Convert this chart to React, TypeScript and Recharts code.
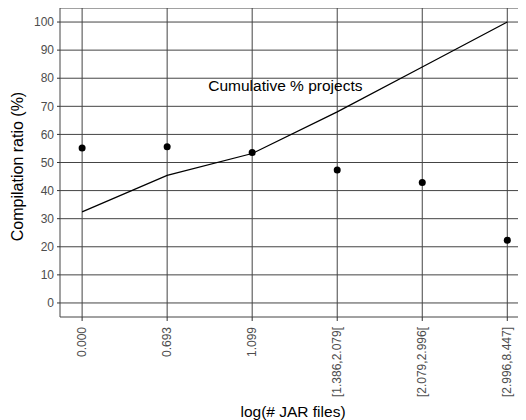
import { ComposedChart, Line, XAxis, YAxis, CartesianGrid, ReferenceDot, Label } from 'recharts'

const jarBins = ['0.000', '0.693', '1.099', '[1.386,2.079[', '[2.079,2.996[', '[2.996,8.447]']
const compilationRatio = [55.2, 55.6, 53.6, 47.3, 42.9, 22.3]
const cumulativeProjects = [32.4, 45.4, 53.2, 68.0, 84.0, 100]
const yTicks = [0, 10, 20, 30, 40, 50, 60, 70, 80, 90, 100]

const data = jarBins.map((bin, i) => ({
    idx: i,
    bin,
    ratio: compilationRatio[i],
    cumulative: cumulativeProjects[i]
}))

const FONT = '"Liberation Sans", Arial, sans-serif'

const XTick = (props: any) => {
    const { x, y, payload } = props
    return (
        <text
            x={x}
            y={y}
            dy="0.35em"
            transform={`rotate(-90 ${x} ${y})`}
            textAnchor="end"
            fontSize={12}
            fill="#4d4d4d"
            fontFamily={FONT}
        >
            {jarBins[payload.value]}
        </text>
    )
}

const YTitle = (props: any) => {
    const { viewBox } = props
    const cx = viewBox.x + 9
    const cy = viewBox.y + viewBox.height / 2 + 4
    return (
        <text x={cx} y={cy} dy="0.35em" transform={`rotate(-90 ${cx} ${cy})`} textAnchor="middle" fontSize={16} fill="#000" fontFamily={FONT}>
            Compilation ratio (%)
        </text>
    )
}

const Annotation = (props: any) => {
    const { cx, cy } = props
    return (
        <text x={cx} y={cy} dy="0.35em" textAnchor="middle" fontSize={15.5} fill="#000" fontFamily={FONT}>
            Cumulative % projects
        </text>
    )
}

export default function App() {
    return (
        <ComposedChart
            width={518}
            height={412}
            data={data}
            margin={{ top: 0, right: 0, bottom: 0, left: 0 }}
            style={{ fontFamily: FONT }}
        >
            <CartesianGrid stroke="#444" strokeWidth={1} />
            <XAxis
                dataKey="idx"
                type="number"
                domain={[-0.26, 5.22]}
                ticks={[0, 1, 2, 3, 4, 5]}
                allowDataOverflow
                height={103}
                axisLine={false}
                tickSize={4}
                tickLine={{ stroke: '#333' }}
                tickMargin={6}
                tick={<XTick />}
                interval={0}
            >
                <Label value="log(# JAR files)" position="insideBottom" offset={3} fontSize={15.5} fill="#000" fontFamily={FONT} />
            </XAxis>
            <YAxis
                type="number"
                domain={[-5, 105]}
                ticks={yTicks}
                allowDataOverflow
                width={52}
                axisLine={false}
                tickSize={3}
                tickLine={{ stroke: '#333' }}
                tickMargin={3}
                tick={{ fontSize: 12, fill: '#4d4d4d', fontFamily: FONT }}
                interval={0}
            >
                <Label content={<YTitle />} />
            </YAxis>
            <Line
                dataKey="cumulative"
                stroke="#000"
                strokeWidth={1.3}
                dot={false}
                activeDot={false}
                isAnimationActive={false}
            />
            <Line
                dataKey="ratio"
                stroke="none"
                dot={{ r: 3.5, fill: '#000', stroke: 'none' }}
                activeDot={false}
                isAnimationActive={false}
            />
            <ReferenceDot x={2.39} y={77.4} r={0} shape={<Annotation />} />
        </ComposedChart>
    )
}
